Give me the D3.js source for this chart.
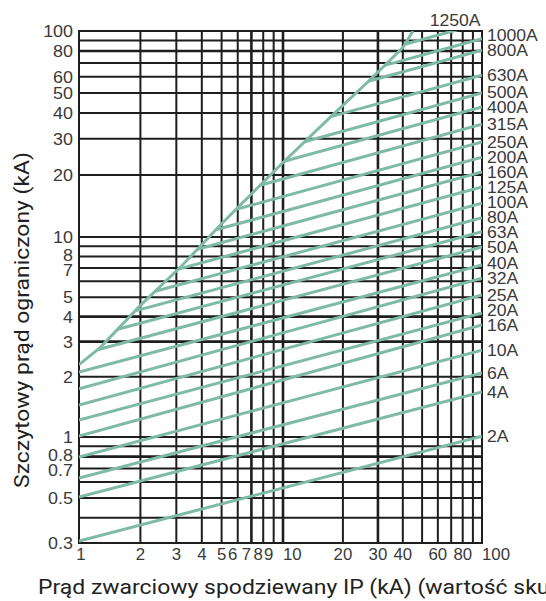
<!DOCTYPE html>
<html><head><meta charset="utf-8">
<script src="https://cdn.jsdelivr.net/npm/d3@7"></script>
<style>
body{margin:0;background:#fff;overflow:hidden}
svg{display:block}
</style>
</head><body>
<svg id="chart" width="546" height="601"></svg>
<script>
// ---------- data ----------
const xGridValues = [1,2,3,4,5,6,7,8,9,10,20,30,40,50,60,70,80,90,100];
const yGridValues = [0.3,0.4,0.5,0.6,0.7,0.8,0.9,1,2,3,4,5,6,7,8,9,10,20,30,40,50,60,70,80,90,100];
const xTickLabels = [1,2,3,4,5,6,7,8,9,10,20,30,40,60,80,100];
const yTickLabels = [100,80,60,50,40,30,20,10,8,7,5,4,3,2,1,0.8,0.7,0.5,0.3];

const fuseRatings = ["2A","4A","6A","10A","16A","20A","25A","32A","40A","50A","63A","80A","100A","125A","160A","200A","250A","315A","400A","500A","630A","800A","1000A","1250A"];
// peak let-through (kA) at 1 kA prospective (extrapolated for curves starting on the envelope)
const fuseAt1kA   = [0.307,0.506,0.628,0.797,1.01,1.216,1.445,1.74,2.11,2.58,3.07,3.59,4.23,5.07,6.0,7.07,8.38,10.2,12.4,14.5,17.7,23.4,26.6,31.7];
// peak let-through (kA) at 100 kA prospective
const fuseAt100kA = [1.01,1.68,2.09,2.72,3.63,4.17,5.13,6.23,7.24,8.91,10.6,12.4,14.6,17.5,20.7,24.4,28.9,35.3,42.8,50.0,61.1,80.8,91.8,109.3];

// unlimited peak current envelope
const envelopeX = [1,1.27,2,3.2,5,10,17.2,27.4,40,45];
const envelopeY = [2.3,2.8,4.55,7.2,11.6,23,38,58,83,100];

const xTitle = "Prąd zwarciowy spodziewany IP (kA) (wartość skuteczna)";
const xTitleVisible = "Prąd zwarciowy spodziewany IP (kA) (wartość sku";
const yTitle = "Szczytowy prąd ograniczony (kA)";

// ---------- layout ----------
const svg = d3.select("#chart");
const x = d3.scaleLog().domain([1,10,100]).range([79,283,482]);
const y = d3.scaleLog().domain([0.3,1,10,100]).range([543,437,237,31]);
const pLeft = x(1), pRight = x(100), pTop = y(100), pBottom = y(0.3);

const gridColor = "#1e1e1e";
const curveColor = "#7fbaa5";
const textColor = "#3a3a3a";
const tickFont = "'Liberation Sans', Arial, sans-serif";

svg.append("defs").append("clipPath").attr("id","plot")
  .append("rect").attr("x",pLeft).attr("y",pTop).attr("width",pRight-pLeft).attr("height",pBottom-pTop);

// grid
const grid = svg.append("g");
grid.selectAll("line.v").data(xGridValues).join("line")
  .attr("x1",d=>x(d)).attr("x2",d=>x(d)).attr("y1",pTop-1).attr("y2",pBottom+1)
  .attr("stroke",gridColor).attr("stroke-width",d=>(d===7||d===10||d===30)?2.6:2);
grid.selectAll("line.h").data(yGridValues).join("line")
  .attr("y1",d=>y(d)).attr("y2",d=>y(d)).attr("x1",pLeft-1).attr("x2",pRight+1)
  .attr("stroke",gridColor).attr("stroke-width",d=>(d===80||d===4||d===3||d===0.8)?2.6:2);

// curves
const plot = svg.append("g").attr("clip-path","url(#plot)");
const envPts = envelopeX.map((v,i)=>[x(v), y(envelopeY[i])]);
const line = d3.line();

function segIntersect(p0,p1,q0,q1){
  const r=[p1[0]-p0[0],p1[1]-p0[1]], s=[q1[0]-q0[0],q1[1]-q0[1]];
  const den = r[0]*s[1]-r[1]*s[0];
  if (Math.abs(den)<1e-9) return null;
  const t=((q0[0]-p0[0])*s[1]-(q0[1]-p0[1])*s[0])/den;
  const u=((q0[0]-p0[0])*r[1]-(q0[1]-p0[1])*r[0])/den;
  if (t>=0&&t<=1&&u>=0&&u<=1) return [p0[0]+t*r[0], p0[1]+t*r[1]];
  return null;
}

const fuseSegs = fuseRatings.map((name,i)=>{
  const p0=[x(1), y(fuseAt1kA[i])], p1=[x(100), y(fuseAt100kA[i])];
  let start = p0;
  if (p0[1] < envPts[0][1]) {
    for (let k=0;k<envPts.length-1;k++){
      const hit = segIntersect(p0,p1,envPts[k],envPts[k+1]);
      if (hit){ start = hit; break; }
    }
  }
  return {name, pts:[start,p1], end:p1};
});

plot.selectAll("path.fuse").data(fuseSegs).join("path")
  .attr("d",d=>line(d.pts)).attr("fill","none")
  .attr("stroke",curveColor).attr("stroke-width",3).attr("stroke-linecap","butt");
plot.append("path").attr("d",line(envPts)).attr("fill","none")
  .attr("stroke",curveColor).attr("stroke-width",3);

// helper for slightly widened text
function addText(g, str, tx, ty, anchor, size, sx, fam, color){
  return g.append("text").text(str)
    .attr("transform",`translate(${tx},${ty}) scale(${sx},1)`)
    .attr("text-anchor",anchor).attr("font-family",fam)
    .attr("font-size",size).attr("fill",color);
}

// fuse labels (spread upward from the bottom so they do not collide)
const labG = svg.append("g");
const inside = fuseSegs.filter(d=>d.end[1] >= pTop);
const sorted = inside.slice().sort((a,b)=>b.end[1]-a.end[1]);
let prev = Infinity;
sorted.forEach(d=>{ const ly = Math.min(d.end[1], prev-15); d.ly = ly; prev = ly; });
sorted.forEach(d=>addText(labG, d.name, pRight+5, d.ly+5.8, "start", 16, 1.1, tickFont, textColor));
fuseSegs.filter(d=>d.end[1] < pTop).forEach(d=>{
  const [a,b]=d.pts; const t=(pTop-a[1])/(b[1]-a[1]); const hx=a[0]+t*(b[0]-a[0]);
  addText(labG, d.name, hx+2, pTop-5, "middle", 16, 1.1, tickFont, textColor);
});

// y tick labels: small symmetric relaxation for crowded neighbours
const tickG = svg.append("g");
const yLab = yTickLabels.map(v=>({v, py:y(v)})).sort((a,b)=>a.py-b.py);
for (let it=0; it<20; it++){
  for (let i=1;i<yLab.length;i++){
    const gap = yLab[i].py - yLab[i-1].py;
    if (gap < 15){ const s=(15-gap)/2; yLab[i-1].py -= s; yLab[i].py += s; }
  }
  yLab[0].py = Math.max(yLab[0].py, y(100));
  yLab[yLab.length-1].py = Math.min(yLab[yLab.length-1].py, y(0.3));
}
yLab.forEach(d=>addText(tickG, String(d.v), pLeft-6, d.py+6, "end", 16, 1.12, tickFont, textColor));

xTickLabels.forEach(v=>{
  let px = x(v), anchor="middle";
  if (v>=6 && v<=9) px -= 5;
  if (v===10 || v===100) { anchor="start"; }
  if (v===1) px += 2;
  addText(tickG, String(v), px, pBottom+17, anchor, 16, 1.05, tickFont, textColor);
});

// axis titles
const titleFont = "Roboto, 'Noto Sans', sans-serif";
const xt = svg.append("text").text(xTitle).attr("font-family",titleFont).attr("font-size",20).attr("fill","#222");
const visLen = xt.node().getSubStringLength(0, xTitleVisible.length);
const sxT = 512/visLen;
xt.attr("transform",`translate(38,594) scale(${sxT},1)`);

const yt = svg.append("text").text(yTitle).attr("font-family",titleFont).attr("font-size",21).attr("fill","#222").attr("text-anchor","middle");
const yLen = yt.node().getComputedTextLength();
const syT = 336/yLen;
yt.attr("transform",`translate(29,320) rotate(-90) scale(${syT},1)`);
</script>
</body></html>
